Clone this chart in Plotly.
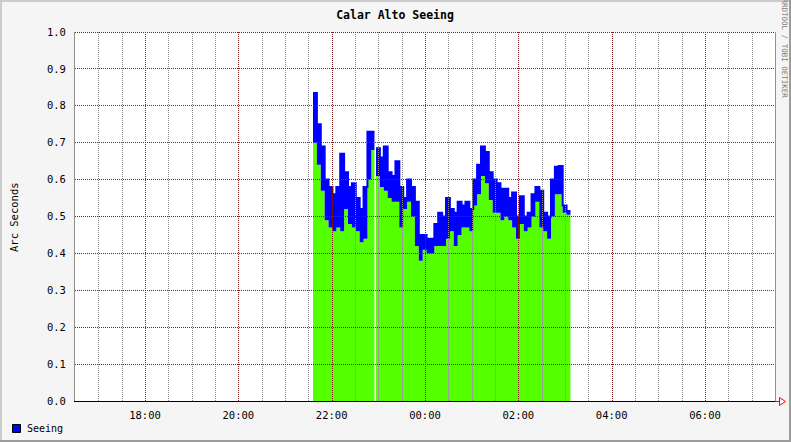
import math
import plotly.graph_objects as go
import pandas as pd

# ---- data ----
seg1_start = "2012-01-01 21:36"
seg1_end = "2012-01-01 22:55"
seg1_low = [0.70, 0.64, 0.57, 0.49, 0.47, 0.46, 0.47, 0.46, 0.52, 0.48, 0.47, 0.46, 0.43, 0.44, 0.60, 0.68]
seg1_high = [0.835, 0.75, 0.69, 0.60, 0.58, 0.56, 0.58, 0.67, 0.62, 0.58, 0.59, 0.55, 0.52, 0.58, 0.73, 0.73]

seg2_start = "2012-01-01 22:57"
seg2_end = "2012-01-02 03:07"
seg2_low = [0.61, 0.58, 0.57, 0.55, 0.54, 0.54, 0.47, 0.52, 0.54, 0.50,
            0.42, 0.38, 0.41, 0.40, 0.40, 0.42, 0.42, 0.42, 0.44, 0.46,
            0.42, 0.45, 0.47, 0.47, 0.46, 0.53, 0.56, 0.61, 0.59, 0.545,
            0.51, 0.51, 0.49, 0.50, 0.49, 0.47, 0.44, 0.48, 0.46, 0.47,
            0.50, 0.54, 0.47, 0.46, 0.44, 0.50, 0.56, 0.56, 0.51, 0.505]
seg2_high = [0.685, 0.66, 0.69, 0.62, 0.61, 0.65, 0.58, 0.55, 0.60, 0.58,
             0.54, 0.45, 0.45, 0.44, 0.44, 0.48, 0.51, 0.50, 0.55, 0.52,
             0.51, 0.54, 0.53, 0.54, 0.52, 0.60, 0.64, 0.69, 0.675, 0.62,
             0.60, 0.59, 0.575, 0.575, 0.55, 0.565, 0.50, 0.555, 0.50, 0.51,
             0.56, 0.58, 0.57, 0.51, 0.50, 0.60, 0.635, 0.637, 0.53, 0.515]

x_range = ["2012-01-01 16:30", "2012-01-02 07:30"]
y_ticks = [0.0, 0.1, 0.2, 0.3, 0.4, 0.5, 0.6, 0.7, 0.8, 0.9, 1.0]
title_text = "Calar Alto Seeing"
y_title = "Arc Seconds"
legend_label = "Seeing"
credit = "RRDTOOL / TOBI OETIKER"

GREEN = "#54FF00"
BLUE = "#0000FF"
MGRID = "#821E1E"
GRID = "#8C8C8C"
FONT = "DejaVu Sans Mono"

W, H = 791, 442
ML, MR, MT, MB = 75, 16, 32, 41
PW, PH = W - ML - MR, H - MT - MB


def px(x):
    return (x - ML) / PW


def py(y):
    return (H - MB - y) / PH


T0 = pd.Timestamp(x_range[0])
T1 = pd.Timestamp(x_range[1])
SPAN = (T1 - T0).total_seconds()


def snap_time(t):
    """shift a grid time so that its 1px line lands on a whole pixel column"""
    p = ML + (t - T0).total_seconds() / SPAN * PW
    p2 = round(p) + 0.5
    ts = T0 + pd.Timedelta(milliseconds=round((p2 - ML) / PW * SPAN * 1000))
    return ts.strftime("%Y-%m-%d %H:%M:%S.%f")[:-3]


def snap_val(v):
    p = MT + (1 - v) * PH
    p2 = math.floor(p + 1e-6) + 0.5
    return 1 - (p2 - MT) / PH


def series(start, end, vals):
    t = list(pd.date_range(start, periods=len(vals), freq="5min"))
    t.append(pd.Timestamp(end))
    return t, list(vals) + [vals[-1]]


fig = go.Figure()
for start, end, low, high in [(seg1_start, seg1_end, seg1_low, seg1_high),
                              (seg2_start, seg2_end, seg2_low, seg2_high)]:
    t, lo = series(start, end, low)
    _, hi = series(start, end, high)
    fig.add_trace(go.Scatter(x=t, y=lo, mode="lines", line=dict(shape="hv", width=0, color=GREEN),
                             fill="tozeroy", fillcolor=GREEN, showlegend=False, hoverinfo="skip"))
    fig.add_trace(go.Scatter(x=t, y=hi, mode="lines", line=dict(shape="hv", width=2, color=BLUE),
                             fill="tonexty", fillcolor=BLUE, showlegend=False, hoverinfo="skip"))

shapes = []
# grid lines drawn above the data, like rrdtool
for t in pd.date_range("2012-01-01 17:00", "2012-01-02 07:00", freq="30min"):
    major = (t.minute == 0 and t.hour % 2 == 0)
    ts = snap_time(t)
    shapes.append(dict(type="line", xref="x", yref="y", x0=ts, x1=ts, y0=0, y1=1,
                       line=dict(color=MGRID if major else GRID, width=1, dash="1px,1px"),
                       layer="above"))
for v in y_ticks[1:]:
    vs = snap_val(v)
    shapes.append(dict(type="line", xref="x", yref="y", x0=x_range[0], x1=x_range[1], y0=vs, y1=vs,
                       line=dict(color=MGRID, width=1, dash="1px,1px"), layer="above"))

# frame border
shapes += [
    dict(type="rect", xref="paper", yref="paper", x0=px(0), x1=px(W), y0=py(0), y1=py(2),
         fillcolor="#CBCBCB", line=dict(width=0), layer="above"),
    dict(type="rect", xref="paper", yref="paper", x0=px(0), x1=px(2), y0=py(0), y1=py(H),
         fillcolor="#CBCBCB", line=dict(width=0), layer="above"),
    dict(type="rect", xref="paper", yref="paper", x0=px(0), x1=px(W), y0=py(H - 2), y1=py(H),
         fillcolor="#9B9B9B", line=dict(width=0), layer="above"),
    dict(type="rect", xref="paper", yref="paper", x0=px(W - 2), x1=px(W), y0=py(0), y1=py(H),
         fillcolor="#9B9B9B", line=dict(width=0), layer="above"),
]
# axis arrow
shapes.append(dict(type="line", xref="paper", yref="paper", x0=px(775), x1=px(779), y0=py(401.5), y1=py(401.5),
                   line=dict(color="#FF0000", width=1), layer="above"))
shapes.append(dict(type="path", xref="paper", yref="paper",
                   path=f"M {px(779.5)},{py(397.5)} L {px(785.5)},{py(401.5)} L {px(779.5)},{py(405.5)} Z",
                   line=dict(color="#FF0000", width=1), fillcolor="rgba(0,0,0,0)", layer="above"))
# legend swatch
shapes.append(dict(type="rect", xref="paper", yref="paper", x0=px(12.5), x1=px(20.5),
                   y0=py(424.5), y1=py(432.5), fillcolor=BLUE, line=dict(color="#000000", width=1),
                   layer="above"))

annotations = [
    dict(text=y_title, xref="paper", yref="paper", x=px(14), y=py(217), showarrow=False,
         xanchor="center", yanchor="middle",
         textangle=-90, font=dict(family=FONT, size=10.5, color="#000000")),
    dict(text=credit, xref="paper", yref="paper", x=px(784.5), y=py(48), showarrow=False,
         xanchor="center", yanchor="middle",
         textangle=90, font=dict(family=FONT, size=7.5, color="#7A7A7A")),
    dict(text=legend_label, xref="paper", yref="paper", x=px(25), y=py(428.5), showarrow=False,
         xanchor="left", yanchor="middle", font=dict(family=FONT, size=10, color="#000000")),
]

fig.update_layout(
    width=W, height=H,
    margin=dict(l=ML, r=MR, t=MT, b=MB, autoexpand=False),
    paper_bgcolor="#F5F5F5", plot_bgcolor="#FFFFFF",
    title=dict(text="<b>" + title_text + "</b>", xref="container", yref="container",
               x=395 / W, y=1 - 15 / H, xanchor="center", yanchor="middle",
               font=dict(family=FONT, size=11.5, color="#000000")),
    shapes=shapes, annotations=annotations,
    showlegend=False,
    xaxis=dict(type="date", range=x_range, tick0="2012-01-01 18:00", dtick=7200000,
               tickformat="%H:%M", showgrid=False, zeroline=False, showline=True,
               linecolor="#000000", linewidth=1, ticks="", ticklabelstandoff=4,
               tickfont=dict(family=FONT, size=10.5, color="#000000"), fixedrange=True),
    yaxis=dict(range=[0, 1], tickvals=y_ticks, tickformat=".1f", showgrid=False,
               zeroline=False, showline=True, mirror=True, linecolor="#909090", linewidth=1,
               ticks="", ticklabelstandoff=6,
               tickfont=dict(family=FONT, size=10.5, color="#000000"), fixedrange=True),
)

fig.write_html("out.html")
